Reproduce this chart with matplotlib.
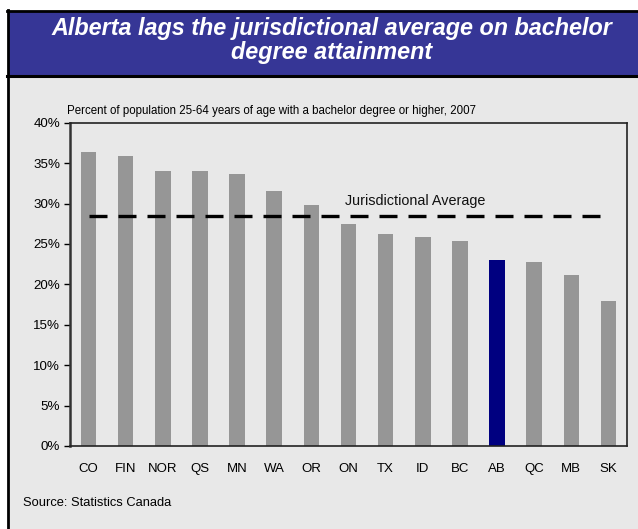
import matplotlib
matplotlib.use('Agg')
import matplotlib.pyplot as plt
from matplotlib.patches import Rectangle
from matplotlib.ticker import FuncFormatter

# bachelor degree attainment, age 25-64, 2007
regions = ['CO', 'FIN', 'NOR', 'QS', 'MN', 'WA', 'OR', 'ON', 'TX', 'ID', 'BC', 'AB', 'QC', 'MB', 'SK']
attainment = [36.4, 35.9, 34.0, 34.0, 33.6, 31.6, 29.8, 27.5, 26.2, 25.8, 25.4, 23.0, 22.8, 21.1, 18.0]
jurisdictional_avg = 28.4
highlight = 'AB'

plt.rcParams['font.family'] = ['Liberation Sans', 'DejaVu Sans']

W, H = 638, 529
fig = plt.figure(figsize=(W / 100, H / 100), dpi=100)
fig.patch.set_facecolor('white')

# panel background, title band and frame lines, in pixel coords
bg = fig.add_axes([0, 0, 1, 1], zorder=0)
bg.set_xlim(0, W)
bg.set_ylim(H, 0)
bg.axis('off')
bg.add_patch(Rectangle((8, 10), W - 8, H - 10, facecolor='#e8e8e8', edgecolor='none'))
bg.add_patch(Rectangle((8, 11), W - 8, 64, facecolor='#363696', edgecolor='none'))
bg.plot([7, W], [10.5, 10.5], color='black', lw=2)
bg.plot([7, W], [75.5, 75.5], color='black', lw=2.2)
bg.plot([7.5, 7.5], [10, H], color='black', lw=2)

title_kw = dict(ha='center', va='center', color='white', fontsize=16.8,
                fontweight='bold', fontstyle='italic')
bg.text(332, 28.5, 'Alberta lags the jurisdictional average on bachelor', **title_kw)
bg.text(332, 52, 'degree attainment', **title_kw)
bg.text(67, 111, 'Percent of population 25-64 years of age with a bachelor degree or higher, 2007',
        ha='left', va='center', fontsize=8.3, color='black')
bg.text(23, 503, 'Source: Statistics Canada', ha='left', va='center', fontsize=9.3, color='black')

# main chart
left, right, top, bottom = 70, 627, 122.7, 446
ax = fig.add_axes([left / W, 1 - bottom / H, (right - left) / W, (bottom - top) / H], zorder=1)
ax.set_facecolor('#e8e8e8')

x = list(range(len(regions)))
colors = ['#000080' if r == highlight else '#969696' for r in regions]
ax.bar(x, attainment, width=0.42, color=colors, zorder=2)
ax.plot([x[0], x[-1]], [jurisdictional_avg, jurisdictional_avg], color='black', lw=2.4,
        dashes=(5.4, 3.3), zorder=3)
ax.text(6.9, jurisdictional_avg + 1.1, 'Jurisdictional Average', ha='left', va='bottom',
        fontsize=10.4, color='#111111')

ax.set_xlim(-0.5, len(regions) - 0.5)
ax.set_ylim(0, 40)
ax.set_yticks(range(0, 41, 5))
ax.yaxis.set_major_formatter(FuncFormatter(lambda v, _: f'{int(v)}%'))
ax.set_xticks(x)
ax.set_xticklabels(regions)
ax.tick_params(axis='x', length=0, pad=12, labelsize=9.5)
ax.tick_params(axis='y', length=4, width=1, direction='out', pad=3, labelsize=9.6)
for side in ['top', 'right', 'bottom']:
    ax.spines[side].set_linewidth(1.2)
    ax.spines[side].set_color('#222222')
ax.spines['left'].set_linewidth(1.8)
ax.spines['left'].set_color('#333333')

fig.savefig('out.png', dpi=100, facecolor=fig.get_facecolor())
